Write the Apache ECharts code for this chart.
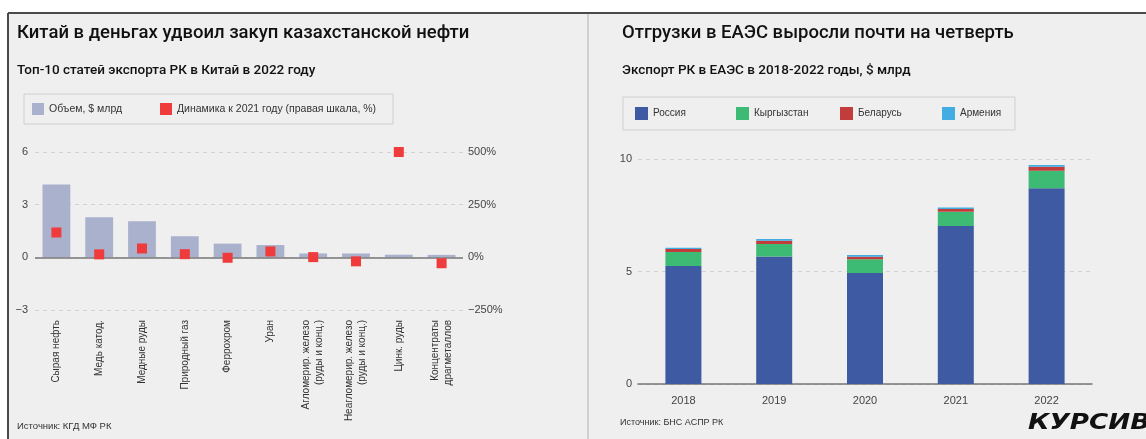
<!DOCTYPE html>
<html>
<head>
<meta charset="utf-8">
<script src="https://cdn.jsdelivr.net/npm/echarts@6/dist/echarts.min.js"></script>
<style>
  html, body { margin: 0; padding: 0; background: #fff; }
  #chart { width: 1146px; height: 439px; }
</style>
</head>
<body>
<div id="chart"></div>
<script>
// left chart: top-10 export items to China, 2022
const goods = ['Сырая нефть', 'Медь катод.', 'Медные руды', 'Природный газ', 'Феррохром', 'Уран',
  'Агломерир. железо\n(руды и конц.)', 'Неагломерир. железо\n(руды и конц.)', 'Цинк. руды', 'Концентраты\nдрагметаллов']
const volume = [4.15, 2.28, 2.05, 1.2, 0.78, 0.7, 0.22, 0.22, 0.15, 0.14]
const growth = [118, 14, 42, 15, -2, 28, 1, -19, 500, -28]
const leftTicks = [-3, 0, 3, 6]
const rightTicks = [-250, 0, 250, 500]

// right chart: exports to EAEU by country
const years = ['2018', '2019', '2020', '2021', '2022']
const russia = [5.25, 5.67, 4.93, 7.02, 8.7]
const kyrgyzstan = [0.62, 0.55, 0.61, 0.64, 0.78]
const belarus = [0.13, 0.15, 0.12, 0.12, 0.18]
const armenia = [0.06, 0.07, 0.07, 0.07, 0.07]

const narrow = "'Liberation Sans Narrow', 'Liberation Sans', sans-serif"
const head = 'Roboto, sans-serif'
const minus = v => String(v).replace('-', '−')

const chart = echarts.init(document.getElementById('chart'))

const dashed = {show: true, lineStyle: {color: '#d2d2d2', type: [4, 4], width: 1}}

// one legend per item so each sits where the original puts it
const legendItem = (name, left, top, size, fontSize) => ({
  left: left, top: top, padding: 0, itemWidth: size, itemHeight: size,
  icon: 'rect', data: [name],
  textStyle: {fontFamily: narrow, fontSize: fontSize, color: '#333'}
})

chart.setOption({
  backgroundColor: '#fff',
  animation: false,
  graphic: [
    {type: 'rect', z: -10, shape: {x: 9, y: 14, width: 1137, height: 425}, style: {fill: '#efefef'}},
    {type: 'line', z: -5, shape: {x1: 8, y1: 13, x2: 1146, y2: 13}, style: {stroke: '#4a4a4a', lineWidth: 2}},
    {type: 'line', z: -5, shape: {x1: 8, y1: 13, x2: 8, y2: 439}, style: {stroke: '#4a4a4a', lineWidth: 2}},
    {type: 'line', z: -5, shape: {x1: 588, y1: 14, x2: 588, y2: 439}, style: {stroke: '#d0d0d0', lineWidth: 2}},
    {type: 'rect', z: -4, shape: {x: 24, y: 94, width: 369, height: 30}, style: {fill: 'none', stroke: '#cfcfcf', lineWidth: 1}},
    {type: 'rect', z: -4, shape: {x: 623, y: 97, width: 392, height: 33}, style: {fill: 'none', stroke: '#cfcfcf', lineWidth: 1}},
    {type: 'text', left: 17, top: 421, style: {text: 'Источник: КГД МФ РК', fill: '#333', font: '9.5px ' + narrow}},
    {type: 'text', left: 620, top: 418, style: {text: 'Источник: БНС АСПР РК', fill: '#333', font: '9px ' + narrow}},
    {type: 'text', x: 1028, y: 413, scaleX: 1.25,
      style: {text: 'КУРСИВ', fill: '#111', font: 'italic bold 21px "DejaVu Sans", sans-serif'}}
  ],
  title: [
    {text: 'Китай в деньгах удвоил закуп казахстанской нефти', left: 17, top: 24, padding: 0,
      textStyle: {fontFamily: head, fontSize: 18.5, fontWeight: 500, color: '#111'}},
    {text: 'Топ-10 статей экспорта РК в Китай в 2022 году', left: 17, top: 64, padding: 0,
      textStyle: {fontFamily: head, fontSize: 13.5, fontWeight: 500, color: '#111'}},
    {text: 'Отгрузки в ЕАЭС выросли почти на четверть', left: 622, top: 24, padding: 0,
      textStyle: {fontFamily: head, fontSize: 18.5, fontWeight: 500, color: '#111'}},
    {text: 'Экспорт РК в ЕАЭС в 2018-2022 годы, $ млрд', left: 622, top: 64, padding: 0,
      textStyle: {fontFamily: head, fontSize: 13.5, fontWeight: 500, color: '#111'}}
  ],
  legend: [
    legendItem('Объем, $ млрд', 32, 103, 12, 10.5),
    legendItem('Динамика к 2021 году (правая шкала, %)', 160, 103, 12, 10.5),
    legendItem('Россия', 635, 107, 13, 10),
    legendItem('Кыргызстан', 736, 107, 13, 10),
    legendItem('Беларусь', 840, 107, 13, 10),
    legendItem('Армения', 942, 107, 13, 10)
  ],
  grid: [
    {left: 35, right: 683, top: 152, bottom: 129},
    {left: 638, right: 54, top: 159, bottom: 55}
  ],
  xAxis: [
    {
      gridIndex: 0,
      type: 'category',
      data: goods,
      axisLine: {show: false, onZero: false},
      axisTick: {show: false},
      axisLabel: {
        interval: 0, rotate: 90, margin: 10,
        fontFamily: narrow, fontSize: 10, lineHeight: 13, color: '#333'
      }
    },
    {
      gridIndex: 1,
      type: 'category',
      data: years,
      axisLine: {lineStyle: {color: '#777', width: 1.5}},
      axisTick: {show: false},
      axisLabel: {margin: 11, fontFamily: "'Liberation Sans', sans-serif", fontSize: 11, color: '#444'}
    }
  ],
  yAxis: [
    {
      gridIndex: 0,
      min: leftTicks[0], max: leftTicks[leftTicks.length - 1], interval: 3,
      axisLine: {show: false},
      axisTick: {show: false},
      splitLine: dashed,
      axisLabel: {margin: 7, fontFamily: "'Liberation Sans', sans-serif", fontSize: 11, color: '#444', formatter: v => minus(v)}
    },
    {
      gridIndex: 0,
      position: 'right',
      min: rightTicks[0], max: rightTicks[rightTicks.length - 1], interval: 250,
      axisLine: {show: false},
      axisTick: {show: false},
      splitLine: {show: false},
      axisLabel: {margin: 5, fontFamily: "'Liberation Sans', sans-serif", fontSize: 11, color: '#444', formatter: v => minus(v) + '%'}
    },
    {
      gridIndex: 1,
      min: 0, max: 10, interval: 5,
      axisLine: {show: false},
      axisTick: {show: false},
      splitLine: dashed,
      axisLabel: {margin: 6, fontFamily: "'Liberation Sans', sans-serif", fontSize: 11, color: '#444'}
    }
  ],
  series: [
    {
      name: 'Объем, $ млрд',
      type: 'bar',
      xAxisIndex: 0,
      yAxisIndex: 0,
      barCategoryGap: '35%',
      itemStyle: {color: '#a9b1cc'},
      data: volume,
      markLine: {
        silent: true,
        symbol: 'none',
        label: {show: false},
        lineStyle: {color: '#777', type: 'solid', width: 1.5},
        data: [{yAxis: 0}]
      }
    },
    {
      name: 'Динамика к 2021 году (правая шкала, %)',
      type: 'scatter',
      xAxisIndex: 0,
      yAxisIndex: 1,
      symbol: 'rect',
      symbolSize: 10,
      itemStyle: {color: '#ef3b3b', opacity: 1},
      z: 5,
      data: growth
    },
    {name: 'Россия', type: 'bar', stack: 'eaeu', xAxisIndex: 1, yAxisIndex: 2, barWidth: 36,
      itemStyle: {color: '#3e5aa2'}, data: russia},
    {name: 'Кыргызстан', type: 'bar', stack: 'eaeu', xAxisIndex: 1, yAxisIndex: 2, barWidth: 36,
      itemStyle: {color: '#3dbb75'}, data: kyrgyzstan},
    {name: 'Беларусь', type: 'bar', stack: 'eaeu', xAxisIndex: 1, yAxisIndex: 2, barWidth: 36,
      itemStyle: {color: '#c33c3c'}, data: belarus},
    {name: 'Армения', type: 'bar', stack: 'eaeu', xAxisIndex: 1, yAxisIndex: 2, barWidth: 36,
      itemStyle: {color: '#41ade3'}, data: armenia}
  ]
})
</script>
</body>
</html>
